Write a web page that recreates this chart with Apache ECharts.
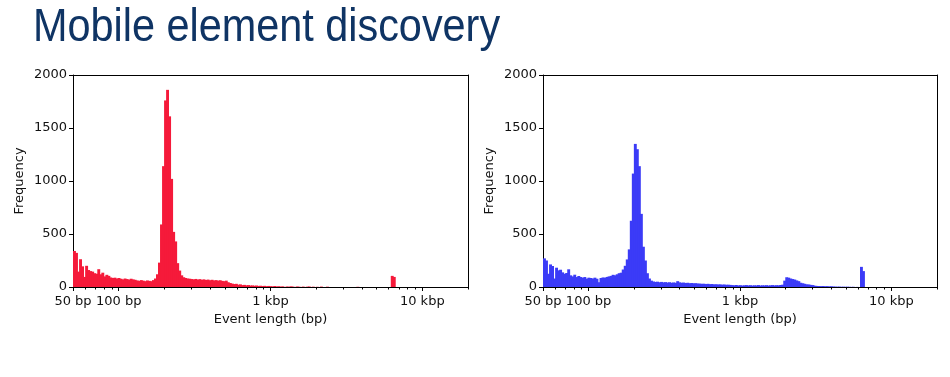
<!DOCTYPE html>
<html>
<head>
<meta charset="utf-8">
<title>Mobile element discovery</title>
<script src="https://cdn.jsdelivr.net/npm/echarts@6/dist/echarts.min.js"></script>
<style>
  html, body { margin: 0; padding: 0; background: #fff; }
  #chart { width: 950px; height: 377px; }
</style>
</head>
<body>
<div id="chart"></div>
<script>
// histogram bins are log spaced: 75 per decade, first one starts at 50 bp
const binStart = 50;
const binsPerDecade = 75;

// counts per bin (left panel, red)
const redCounts = [
  340, 322, 145, 262, 195, 95, 200, 160, 150, 145,
  130, 125, 168, 120, 135, 100, 115, 105, 90, 85,
  88, 80, 85, 78, 72, 80, 75, 70, 78, 72,
  68, 62, 58, 65, 60, 55, 62, 58, 55, 65,
  80, 120, 230, 590, 1140, 1760, 1860, 1610, 1020, 520,
  430, 225, 155, 110, 92, 85, 80, 78, 75, 72,
  76, 70, 74, 68, 72, 66, 70, 64, 68, 62,
  65, 60, 64, 58, 55, 60, 45, 38, 32, 28,
  30, 22, 25, 18, 20, 16, 18, 14, 15, 12,
  14, 10, 12, 9, 11, 8, 10, 8, 6, 9,
  5, 7, 4, 6, 0, 5, 3, 6, 4, 0,
  5, 3, 0, 4, 0, 3, 5, 0, 3, 0,
  2, 0, 4, 0, 0, 3, 0, 0, 0, 0,
  0, 0, 0, 0, 0, 0, 0, 0, 0, 0,
  2, 0, 0, 0, 0, 0, 0, 0, 0, 0,
  0, 0, 0, 0, 0, 0, 0, 105, 95, 0
];

// counts per bin (right panel, blue)
const blueCounts = [
  270, 250, 125, 213, 198, 80, 182, 157, 163, 138,
  125, 132, 167, 110, 100, 116, 94, 104, 94, 88,
  94, 79, 88, 85, 80, 88, 78, 45, 85, 90,
  88, 95, 100, 105, 115, 110, 120, 130, 135, 165,
  200, 260, 355, 625, 1070, 1350, 1300, 1140, 690, 380,
  250, 130, 80, 60, 52, 48, 50, 45, 48, 44,
  46, 42, 45, 40, 43, 40, 55, 44, 40, 42,
  38, 40, 36, 38, 35, 36, 33, 32, 30, 31,
  28, 30, 27, 28, 25, 26, 24, 25, 22, 24,
  21, 22, 20, 18, 16, 19, 15, 17, 14, 16,
  18, 15, 17, 14, 16, 15, 18, 14, 16, 15,
  17, 14, 16, 18, 15, 17, 16, 19, 22, 60,
  92, 88, 80, 75, 70, 62, 55, 40, 35, 30,
  25, 24, 20, 18, 12, 10, 9, 8, 9, 7,
  8, 6, 7, 5, 4, 3, 4, 2, 3, 2,
  3, 2, 1, 2, 0, 1, 0, 190, 150, 0
];

// axis ticks / labels
const xLabelValues = [50, 100, 1000, 10000];
const xLabelText = ['50 bp', '100 bp', '1 kbp', '10 kbp'];
const xMajorTicks = [50, 100, 1000, 10000];
const xMinorTicks = [60, 70, 80, 90, 200, 300, 400, 500, 600, 700, 800, 900,
  2000, 3000, 4000, 5000, 6000, 7000, 8000, 9000, 20000];

const toBins = (counts) => counts.map((c, i) => [
  binStart * Math.pow(10, i / binsPerDecade),
  binStart * Math.pow(10, (i + 1) / binsPerDecade),
  c
]);

const axisFont = 'DejaVu Sans';
const ink = '#111';

// one rect per bin, slightly widened so neighbours don't leave seams
const makeRender = (color) => (params, api) => {
  const n = api.value(2);
  if (!n) return null;
  const p0 = api.coord([api.value(0), n]);
  const p1 = api.coord([api.value(1), 0]);
  return {
    type: 'rect',
    shape: { x: p0[0], y: p0[1], width: p1[0] - p0[0] + 0.9, height: p1[1] - p0[1] },
    style: { fill: color }
  };
};

const mainX = (gridIndex) => ({
  type: 'log',
  logBase: 10,
  gridIndex: gridIndex,
  min: 50,
  max: 20000,
  position: 'bottom',
  name: 'Event length (bp)',
  nameLocation: 'middle',
  nameGap: 25,
  nameTextStyle: { fontFamily: axisFont, fontSize: 13, color: ink },
  axisLine: { onZero: false, lineStyle: { color: '#000', width: 1 } },
  axisTick: { customValues: xMajorTicks, length: 4, lineStyle: { color: '#000' } },
  axisLabel: {
    customValues: xLabelValues,
    margin: 8,
    fontFamily: axisFont,
    fontSize: 13,
    color: ink,
    formatter: (v) => {
      const k = xLabelValues.findIndex((t) => Math.abs(t - v) / t < 1e-6);
      return k >= 0 ? xLabelText[k] : '';
    }
  },
  splitLine: { show: false }
});

const minorX = (gridIndex) => ({
  type: 'log',
  logBase: 10,
  gridIndex: gridIndex,
  min: 50,
  max: 20000,
  position: 'bottom',
  axisLine: { show: false, onZero: false },
  axisTick: { customValues: xMinorTicks, length: 2.5, lineStyle: { color: '#000' } },
  axisLabel: { show: false },
  splitLine: { show: false }
});

// top / right spines of the frame
const frameX = (gridIndex) => ({
  type: 'value',
  gridIndex: gridIndex,
  position: 'top',
  min: 0,
  max: 1,
  axisLine: { show: true, onZero: false, lineStyle: { color: '#000', width: 1 } },
  axisTick: { show: false },
  axisLabel: { show: false },
  splitLine: { show: false }
});

const frameY = (gridIndex) => ({
  type: 'value',
  gridIndex: gridIndex,
  position: 'right',
  min: 0,
  max: 1,
  axisLine: { show: true, onZero: false, lineStyle: { color: '#000', width: 1 } },
  axisTick: { show: false },
  axisLabel: { show: false },
  splitLine: { show: false }
});

const freqY = (gridIndex) => ({
  type: 'value',
  gridIndex: gridIndex,
  position: 'left',
  min: 0,
  max: 2000,
  interval: 500,
  name: 'Frequency',
  nameLocation: 'middle',
  nameGap: 47,
  nameTextStyle: { fontFamily: axisFont, fontSize: 13, color: ink },
  axisLine: { show: true, onZero: false, lineStyle: { color: '#000', width: 1 } },
  axisTick: { show: true, length: 4, lineStyle: { color: '#000' } },
  axisLabel: {
    margin: 6,
    fontFamily: axisFont,
    fontSize: 13,
    color: ink,
    formatter: (v) => String(v)
  },
  splitLine: { show: false }
});

const chart = echarts.init(document.getElementById('chart'), null, { renderer: 'canvas' });

chart.setOption({
  animation: false,
  backgroundColor: '#fff',
  graphic: [{
    type: 'text',
    x: 33,
    y: 28,
    scaleX: 0.9,
    style: {
      text: 'Mobile element discovery',
      fontFamily: 'Liberation Sans, Arial, sans-serif',
      fontSize: 46,
      fill: '#0f3464',
      verticalAlign: 'middle'
    }
  }],
  grid: [
    { left: 73, top: 75, width: 395, height: 212 },
    { left: 543, top: 75, width: 394, height: 212 }
  ],
  xAxis: [mainX(0), minorX(0), mainX(1), minorX(1), frameX(0), frameX(1)],
  yAxis: [freqY(0), freqY(1), frameY(0), frameY(1)],
  series: [
    {
      type: 'custom',
      xAxisIndex: 0,
      yAxisIndex: 0,
      renderItem: makeRender('#f51a3a'),
      encode: { x: [0, 1], y: 2 },
      data: toBins(redCounts)
    },
    {
      type: 'custom',
      xAxisIndex: 2,
      yAxisIndex: 1,
      renderItem: makeRender('#3b3bf7'),
      encode: { x: [0, 1], y: 2 },
      data: toBins(blueCounts)
    }
  ]
});
</script>
</body>
</html>
